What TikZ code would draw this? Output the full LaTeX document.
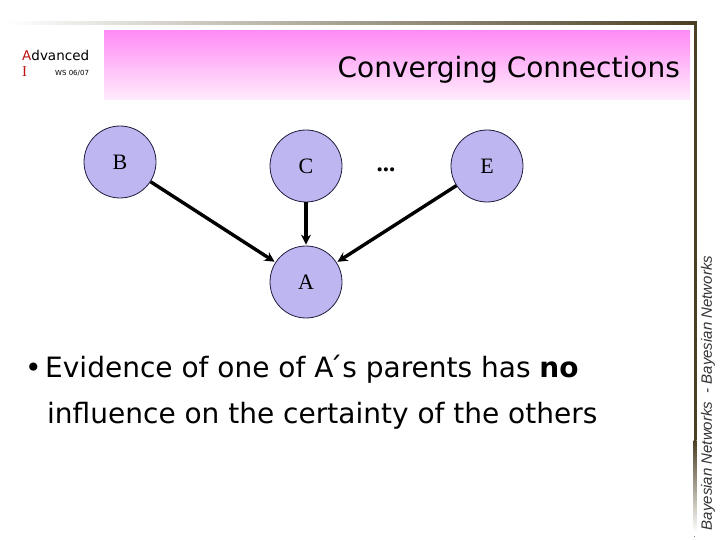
\documentclass[tikz,border=0pt]{standalone}
\usepackage{fontspec}
\setmainfont{DejaVu Sans}
\newfontfamily\serifnode{Liberation Serif}
\newfontfamily\arialf{Liberation Sans}
\usetikzlibrary{arrows.meta}
\definecolor{frameclr}{RGB}{74,63,34}
\definecolor{pinktop}{RGB}{255,140,245}
\definecolor{pinkbot}{RGB}{255,236,252}
\definecolor{nodefill}{RGB}{189,182,240}
\definecolor{nodeedge}{RGB}{30,30,60}
\definecolor{advred}{RGB}{190,20,20}
\tikzset{
  netnode/.style={circle, minimum size=72pt, inner sep=0pt, fill=nodefill, draw=nodeedge, line width=0.8pt, font=\serifnode\fontsize{22}{24}\selectfont},
  edgearrow/.style={line width=3.4pt, -{Stealth[length=10pt,width=10pt]}, shorten >=1pt},
  bodytext/.style={font=\fontsize{28}{34}\selectfont, inner sep=0pt, anchor=base west}
}
\begin{document}
\begin{tikzpicture}[x=1pt,y=-1pt]
\useasboundingbox (0,0) rectangle (720,540);
% frame lines
\shade[left color=white, right color=frameclr] (5,21.5) rectangle (696.5,24.5);
\fill[frameclr] (693.5,21.5) rectangle (696.5,440);
\shade[top color=frameclr, bottom color=white] (693.5,440) rectangle (696.5,532);
\fill[gray] (693.5,536) rectangle (694.5,537);
% title box
\shade[top color=pinktop, bottom color=pinkbot] (104,31) rectangle (690,100);
\node[font=\fontsize{28}{32}\selectfont, inner sep=0pt, anchor=base east] (title) at (680,78) {Converging Connections};
% header left
\node[font=\fontsize{13.5}{16}\selectfont, inner sep=0pt, anchor=base west] (adv) at (22,61) {\textcolor{advred}{A}dvanced};
\node[font=\serifnode\fontsize{15}{18}\selectfont, inner sep=0pt, anchor=base west, text=advred] (ai) at (22,77) {I};
\node[font=\fontsize{7}{8}\selectfont, inner sep=0pt, anchor=base west] (ws) at (55,76) {WS 06/07};
% side text
\node[font=\arialf\itshape\fontsize{15}{18}\selectfont, inner sep=0pt, rotate=90, text=black!80] (side) at (708,393) {Bayesian Networks\ \ -\ Bayesian Networks};
% nodes
\node[netnode] (B) at (120,162) {B};
\node[netnode] (C) at (306,166) {C};
\node[netnode] (E) at (487,166) {E};
\node[netnode] (A) at (306,282) {A};
\node[font=\serifnode\bfseries\fontsize{25}{28}\selectfont, inner sep=0pt] (dots) at (386,170) {...};
% edges
\draw[edgearrow] (B) -- (A);
\draw[edgearrow] (C) -- (A);
\draw[edgearrow] (E) -- (A);
% bullet text
\node[bodytext] (bul) at (25,377) {\textbullet};
\node[bodytext] (l1) at (45,377) {Evidence of one of A\'{}s parents has \textbf{no}};
\node[bodytext] (l2) at (47,423) {influence on the certainty of the others};
\end{tikzpicture}
\end{document}
